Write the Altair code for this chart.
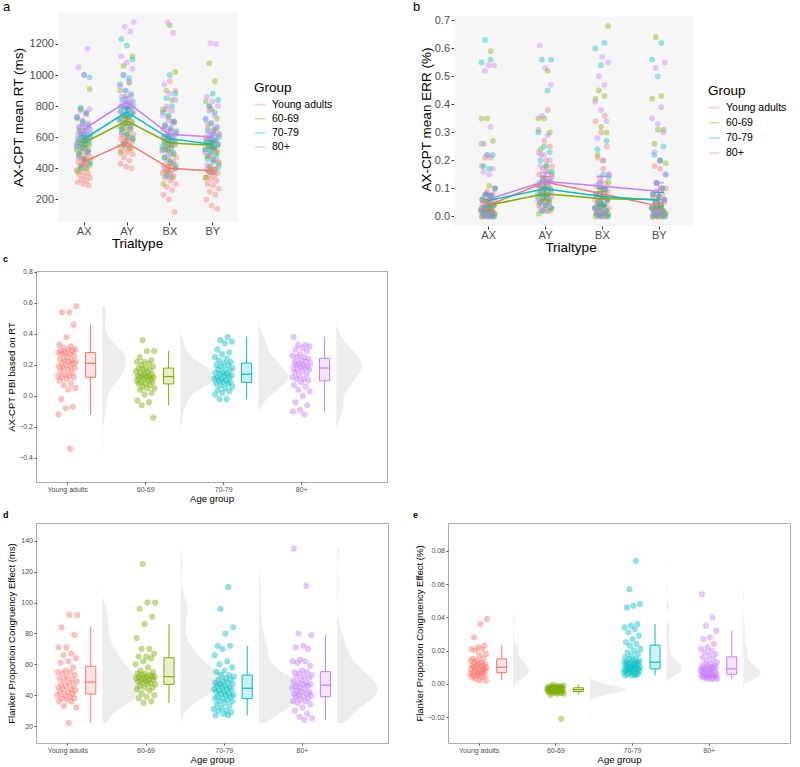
import altair as alt
import pandas as pd

FONT = "Liberation Sans"
GROUPS = ["Young adults", "60-69", "70-79", "80+"]
COLORS = ["#F8766D", "#7CAE00", "#00BFC4", "#C77CFF"]
TRIALS = ["AX", "AY", "BX", "BY"]

# ---------------- panel a : AX-CPT mean RT (ms) ----------------
rt_young_ax = [290, 300, 310, 320, 330, 340, 350, 360, 370, 380, 390, 400, 410, 420, 430, 440, 450, 460, 470, 480, 500, 520, 540, 560, 590, 620]
rt_young_ay = [400, 410, 430, 450, 470, 490, 500, 510, 520, 530, 540, 550, 560, 570, 580, 590, 600, 610, 620, 640, 660, 690, 720, 760, 800]
rt_young_bx = [120, 200, 230, 260, 280, 300, 320, 340, 350, 360, 370, 380, 390, 400, 410, 420, 430, 450, 470, 490, 520, 560, 600, 650, 700, 780, 900, 960]
rt_young_by = [140, 160, 200, 230, 250, 270, 290, 300, 320, 330, 340, 350, 360, 370, 380, 390, 400, 410, 430, 450, 480, 510, 550, 600, 650, 800]
rt_6069_ax = [380, 400, 420, 440, 460, 480, 500, 510, 520, 530, 540, 550, 560, 570, 580, 590, 600, 620, 640, 660, 690, 720, 750, 780, 910]
rt_6069_ay = [500, 530, 560, 590, 610, 630, 650, 660, 670, 680, 690, 700, 710, 720, 730, 740, 760, 780, 800, 830, 860, 900, 950, 1060, 1120]
rt_6069_bx = [300, 340, 380, 420, 450, 470, 490, 510, 520, 530, 540, 550, 560, 570, 580, 600, 620, 640, 670, 700, 740, 780, 840, 900, 1020, 1320]
rt_6069_by = [340, 380, 410, 440, 460, 480, 500, 510, 520, 530, 540, 550, 560, 570, 580, 600, 620, 650, 680, 720, 780, 830, 960, 1075]
rt_7079_ax = [400, 430, 460, 490, 510, 530, 540, 550, 560, 570, 580, 590, 600, 610, 620, 640, 660, 680, 700, 730, 760, 790, 985, 1000]
rt_7079_ay = [550, 590, 620, 650, 670, 690, 710, 730, 740, 750, 760, 770, 780, 790, 800, 820, 840, 870, 900, 940, 980, 1000, 1100, 1190, 1230]
rt_7079_bx = [350, 400, 440, 470, 500, 520, 540, 560, 570, 580, 590, 600, 610, 620, 640, 660, 680, 700, 730, 760, 800, 850, 880, 1000]
rt_7079_by = [380, 410, 440, 460, 480, 500, 520, 530, 540, 550, 560, 570, 580, 590, 600, 620, 640, 660, 690, 720, 760, 800, 840, 880]
rt_80_ax = [430, 470, 500, 530, 550, 570, 590, 600, 610, 620, 630, 640, 650, 660, 670, 690, 710, 730, 750, 770, 780, 1000, 1050, 1170]
rt_80_ay = [580, 620, 660, 690, 710, 730, 750, 770, 790, 800, 810, 820, 830, 840, 860, 880, 900, 930, 960, 1000, 1040, 1080, 1120, 1280, 1310, 1340]
rt_80_bx = [350, 400, 440, 480, 510, 530, 550, 570, 590, 600, 610, 620, 630, 650, 670, 690, 710, 740, 770, 800, 840, 880, 940, 1270, 1340]
rt_80_by = [380, 420, 450, 480, 500, 520, 540, 560, 580, 590, 600, 610, 620, 630, 650, 670, 690, 710, 740, 770, 800, 830, 860, 1200, 1205]

rt_mean_young = [441, 566, 400, 383]
rt_mean_6069 = [563, 705, 563, 548]
rt_mean_7079 = [587, 763, 591, 555]
rt_mean_80 = [651, 828, 619, 602]
rt_err_young = [20, 22, 22, 20]
rt_err_6069 = [20, 24, 24, 22]
rt_err_7079 = [22, 26, 25, 22]
rt_err_80 = [26, 30, 28, 26]

# ---------------- panel b : AX-CPT mean ERR (%) ----------------
er_young_ax = [0.0, 0.0, 0.0, 0.005, 0.01, 0.01, 0.015, 0.02, 0.02, 0.025, 0.03, 0.03, 0.035, 0.04, 0.04, 0.045, 0.05, 0.055, 0.06, 0.065, 0.07, 0.08, 0.09, 0.18, 0.21, 0.21]
er_young_ay = [0.02, 0.03, 0.04, 0.05, 0.06, 0.07, 0.08, 0.09, 0.1, 0.1, 0.11, 0.12, 0.12, 0.13, 0.14, 0.15, 0.16, 0.17, 0.18, 0.2, 0.22, 0.25, 0.27, 0.31, 0.38]
er_young_bx = [0.0, 0.0, 0.01, 0.01, 0.02, 0.03, 0.03, 0.04, 0.05, 0.05, 0.06, 0.07, 0.08, 0.09, 0.1, 0.11, 0.12, 0.14, 0.15, 0.17, 0.21, 0.25, 0.30, 0.34, 0.36]
er_young_by = [0.0, 0.0, 0.0, 0.005, 0.01, 0.01, 0.015, 0.02, 0.02, 0.025, 0.03, 0.03, 0.04, 0.05, 0.06, 0.07, 0.08, 0.09, 0.1, 0.17, 0.18]
er_6069_ax = [0.0, 0.0, 0.005, 0.01, 0.01, 0.015, 0.02, 0.02, 0.025, 0.03, 0.035, 0.04, 0.05, 0.06, 0.07, 0.08, 0.1, 0.11, 0.26, 0.27, 0.35, 0.35, 0.59]
er_6069_ay = [0.01, 0.02, 0.02, 0.03, 0.04, 0.05, 0.05, 0.06, 0.07, 0.07, 0.08, 0.09, 0.1, 0.11, 0.12, 0.13, 0.15, 0.18, 0.24, 0.30, 0.35, 0.35, 0.52]
er_6069_bx = [0.0, 0.0, 0.005, 0.01, 0.01, 0.02, 0.02, 0.03, 0.03, 0.04, 0.05, 0.06, 0.07, 0.08, 0.09, 0.1, 0.12, 0.2, 0.22, 0.30, 0.32, 0.42, 0.43, 0.45, 0.68]
er_6069_by = [0.0, 0.0, 0.005, 0.01, 0.01, 0.02, 0.02, 0.03, 0.03, 0.04, 0.05, 0.06, 0.07, 0.08, 0.1, 0.12, 0.19, 0.2, 0.26, 0.31, 0.31, 0.42, 0.43, 0.64]
er_7079_ax = [0.0, 0.0, 0.005, 0.01, 0.01, 0.02, 0.02, 0.03, 0.03, 0.04, 0.05, 0.06, 0.07, 0.08, 0.1, 0.17, 0.18, 0.22, 0.22, 0.55, 0.56, 0.63]
er_7079_ay = [0.02, 0.03, 0.04, 0.05, 0.06, 0.07, 0.08, 0.08, 0.09, 0.1, 0.11, 0.12, 0.13, 0.14, 0.16, 0.18, 0.2, 0.23, 0.25, 0.3, 0.45, 0.56, 0.56]
er_7079_bx = [0.0, 0.0, 0.01, 0.01, 0.02, 0.03, 0.03, 0.04, 0.05, 0.06, 0.07, 0.08, 0.1, 0.12, 0.14, 0.15, 0.24, 0.27, 0.54, 0.6, 0.62]
er_7079_by = [0.0, 0.0, 0.01, 0.01, 0.02, 0.03, 0.03, 0.04, 0.05, 0.06, 0.07, 0.08, 0.1, 0.12, 0.15, 0.2, 0.22, 0.25, 0.5, 0.56, 0.62]
er_80_ax = [0.0, 0.005, 0.01, 0.01, 0.02, 0.02, 0.03, 0.04, 0.05, 0.06, 0.07, 0.08, 0.1, 0.15, 0.16, 0.17, 0.22, 0.26, 0.32, 0.52, 0.54, 0.54]
er_80_ay = [0.02, 0.03, 0.04, 0.05, 0.06, 0.07, 0.08, 0.09, 0.1, 0.11, 0.12, 0.13, 0.14, 0.16, 0.18, 0.2, 0.22, 0.23, 0.29, 0.36, 0.47, 0.53, 0.61]
er_80_bx = [0.0, 0.01, 0.01, 0.02, 0.03, 0.04, 0.05, 0.06, 0.07, 0.08, 0.1, 0.12, 0.15, 0.2, 0.28, 0.34, 0.38, 0.41, 0.47, 0.5, 0.55, 0.57]
er_80_by = [0.0, 0.01, 0.01, 0.02, 0.03, 0.04, 0.05, 0.06, 0.07, 0.08, 0.1, 0.12, 0.15, 0.2, 0.23, 0.3, 0.33, 0.35, 0.39, 0.53, 0.55]

er_mean_young = [0.039, 0.123, 0.081, 0.037]
er_mean_6069 = [0.040, 0.081, 0.063, 0.061]
er_mean_7079 = [0.057, 0.099, 0.071, 0.058]
er_mean_80 = [0.061, 0.126, 0.108, 0.090]
er_err_young = [0.012, 0.02, 0.02, 0.012]
er_err_6069 = [0.02, 0.022, 0.025, 0.025]
er_err_7079 = [0.022, 0.025, 0.03, 0.028]
er_err_80 = [0.022, 0.03, 0.035, 0.03]

# ---------------- panel c : AX-CPT PBI based on RT ----------------
pbi_young = [0.58, 0.54, 0.54, 0.46, 0.38, 0.33, 0.32, 0.31, 0.30, 0.30, 0.29, 0.29, 0.28, 0.28, 0.27, 0.27, 0.26, 0.25, 0.24, 0.23, 0.23, 0.22, 0.22, 0.21, 0.21, 0.20, 0.19, 0.19, 0.18, 0.18, 0.17, 0.16, 0.15, 0.14, 0.13, 0.13, 0.12, 0.12, 0.11, 0.10, 0.08, 0.07, 0.05, 0.04, -0.02, -0.07, -0.08, -0.12, -0.34]
pbi_6069 = [0.36, 0.29, 0.29, 0.25, 0.23, 0.22, 0.22, 0.21, 0.20, 0.19, 0.18, 0.18, 0.17, 0.17, 0.16, 0.15, 0.15, 0.14, 0.14, 0.13, 0.13, 0.13, 0.12, 0.12, 0.12, 0.11, 0.11, 0.10, 0.10, 0.09, 0.09, 0.08, 0.08, 0.07, 0.06, 0.05, 0.05, 0.04, 0.02, 0.01, -0.03, -0.04, -0.06, -0.14]
pbi_7079 = [0.38, 0.36, 0.35, 0.34, 0.30, 0.28, 0.27, 0.25, 0.24, 0.23, 0.22, 0.21, 0.20, 0.20, 0.19, 0.18, 0.17, 0.17, 0.16, 0.15, 0.15, 0.14, 0.14, 0.13, 0.13, 0.12, 0.12, 0.11, 0.11, 0.10, 0.10, 0.09, 0.09, 0.08, 0.08, 0.07, 0.06, 0.05, 0.04, 0.03, 0.02, 0.01, -0.02, -0.02]
pbi_80 = [0.38, 0.33, 0.33, 0.32, 0.31, 0.30, 0.29, 0.27, 0.26, 0.25, 0.25, 0.24, 0.23, 0.22, 0.22, 0.21, 0.21, 0.20, 0.20, 0.19, 0.19, 0.18, 0.18, 0.17, 0.17, 0.16, 0.15, 0.14, 0.13, 0.12, 0.11, 0.11, 0.10, 0.09, 0.07, 0.06, 0.04, 0.03, 0.00, -0.04, -0.06, -0.09, -0.10, -0.12]

# ---------------- panel d : Flanker proportion congruency effect (ms) ----------------
fce_young = [92, 92, 84, 79, 71, 71, 67, 66, 64, 62, 61, 58, 56, 55, 55, 54, 53, 52, 51, 50, 50, 49, 48, 47, 46, 46, 45, 44, 44, 43, 42, 42, 41, 40, 40, 39, 38, 38, 37, 36, 36, 33, 32, 22]
fce_6069 = [125, 100, 100, 96, 91, 86, 77, 70, 70, 67, 65, 65, 64, 62, 60, 58, 56, 55, 54, 54, 53, 53, 52, 52, 52, 52, 51, 51, 50, 50, 50, 49, 49, 48, 48, 47, 47, 46, 45, 45, 44, 43, 41, 40, 39, 38, 36, 35]
fce_7079 = [110, 96, 84, 80, 72, 72, 70, 66, 62, 60, 58, 56, 55, 53, 53, 52, 51, 50, 50, 49, 48, 48, 47, 47, 46, 46, 45, 45, 44, 44, 43, 43, 42, 42, 41, 41, 40, 40, 39, 39, 38, 38, 37, 36, 36, 35, 34, 33, 32, 31, 30, 30, 29, 28, 27, 27]
fce_80 = [135, 111, 80, 79, 72, 71, 70, 63, 62, 62, 61, 59, 56, 55, 55, 54, 53, 52, 52, 51, 50, 49, 48, 48, 47, 47, 46, 46, 45, 45, 44, 43, 42, 42, 41, 41, 40, 40, 39, 39, 38, 37, 36, 36, 35, 34, 32, 30, 28, 26, 25, 24]

# ---------------- panel e : Flanker proportion congruency effect (%) ----------------
fpe_young = [0.039, 0.036, 0.028, 0.023, 0.022, 0.021, 0.021, 0.020, 0.018, 0.017, 0.015, 0.015, 0.014, 0.014, 0.013, 0.013, 0.012, 0.012, 0.011, 0.011, 0.011, 0.010, 0.010, 0.010, 0.009, 0.009, 0.009, 0.008, 0.008, 0.008, 0.007, 0.007, 0.007, 0.006, 0.006, 0.006, 0.005, 0.005, 0.005, 0.004, 0.004, 0.003, 0.002, 0.002]
fpe_6069 = [-0.0005, -0.001, -0.001, -0.0015, -0.0015, -0.002, -0.002, -0.002, -0.002, -0.0022, -0.0025, -0.0025, -0.0025, -0.0028, -0.003, -0.003, -0.003, -0.003, -0.0032, -0.0035, -0.0035, -0.0035, -0.0038, -0.004, -0.004, -0.004, -0.0042, -0.0045, -0.0045, -0.0048, -0.005, -0.005, -0.0052, -0.0055, -0.0055, -0.006, -0.006, -0.0065, -0.021]
fpe_7079 = [0.074, 0.057, 0.048, 0.047, 0.046, 0.036, 0.035, 0.034, 0.033, 0.031, 0.029, 0.027, 0.025, 0.024, 0.023, 0.021, 0.020, 0.019, 0.018, 0.017, 0.016, 0.015, 0.015, 0.014, 0.014, 0.013, 0.013, 0.013, 0.013, 0.012, 0.012, 0.012, 0.011, 0.011, 0.011, 0.010, 0.010, 0.010, 0.010, 0.009, 0.009, 0.009, 0.009, 0.008, 0.008, 0.008, 0.008, 0.007, 0.007, 0.007, 0.006, 0.006, 0.006, 0.005, 0.005, 0.005]
fpe_80 = [0.054, 0.040, 0.035, 0.032, 0.028, 0.027, 0.024, 0.022, 0.021, 0.020, 0.019, 0.018, 0.017, 0.016, 0.015, 0.014, 0.013, 0.012, 0.012, 0.011, 0.011, 0.010, 0.010, 0.010, 0.010, 0.009, 0.009, 0.009, 0.008, 0.008, 0.008, 0.007, 0.007, 0.007, 0.007, 0.006, 0.006, 0.006, 0.006, 0.005, 0.005, 0.005, 0.005, 0.005, 0.004, 0.004, 0.004, 0.004, 0.003, 0.003, 0.003, 0.003]


# ---------------- table builders ----------------
def trial_points(cells):
    rows = []
    for gi, g in enumerate(GROUPS):
        for ti in range(4):
            for v in cells[gi][ti]:
                rows.append({"g": g, "gi": gi + 1, "ti": ti + 1, "v": v})
    return pd.DataFrame(rows)


def trial_summary(means, errs):
    rows = []
    for gi, g in enumerate(GROUPS):
        for ti in range(4):
            m, e = means[gi][ti], errs[gi][ti]
            rows.append({"g": g, "gi": gi + 1, "ti": ti + 1, "m": m, "lo": m - e, "hi": m + e})
    return pd.DataFrame(rows)


def group_points(lists):
    rows = []
    for gi, g in enumerate(GROUPS):
        for v in lists[gi]:
            rows.append({"g": g, "gi": gi + 1, "v": v})
    return pd.DataFrame(rows)


rt_pts = trial_points([
    [rt_young_ax, rt_young_ay, rt_young_bx, rt_young_by],
    [rt_6069_ax, rt_6069_ay, rt_6069_bx, rt_6069_by],
    [rt_7079_ax, rt_7079_ay, rt_7079_bx, rt_7079_by],
    [rt_80_ax, rt_80_ay, rt_80_bx, rt_80_by]])
rt_sum = trial_summary([rt_mean_young, rt_mean_6069, rt_mean_7079, rt_mean_80],
                       [rt_err_young, rt_err_6069, rt_err_7079, rt_err_80])
er_pts = trial_points([
    [er_young_ax, er_young_ay, er_young_bx, er_young_by],
    [er_6069_ax, er_6069_ay, er_6069_bx, er_6069_by],
    [er_7079_ax, er_7079_ay, er_7079_bx, er_7079_by],
    [er_80_ax, er_80_ay, er_80_bx, er_80_by]])
er_sum = trial_summary([er_mean_young, er_mean_6069, er_mean_7079, er_mean_80],
                       [er_err_young, er_err_6069, er_err_7079, er_err_80])
pbi_df = group_points([pbi_young, pbi_6069, pbi_7079, pbi_80])
fce_df = group_points([fce_young, fce_6069, fce_7079, fce_80])
fpe_df = group_points([fpe_young, fpe_6069, fpe_7079, fpe_80])


def cscale():
    return alt.Scale(domain=GROUPS, range=COLORS)


def tag_title(text, dx, offset, size, weight):
    return alt.TitleParams(text=text, anchor="start", frame="group", orient="top", dx=dx,
                           offset=offset, fontSize=size, fontWeight=weight, color="black", font=FONT)


def trial_panel(pts, summ, xdom, ydom, bgy, yvals, yfmt, ytitle, width, height, jit, cap,
                tag, tag_dx, tag_off, legx, legy, yext, yoff, legrow):
    xs = alt.Scale(domain=xdom, nice=False, zero=False)
    ys = alt.Scale(domain=ydom, nice=False, zero=False)
    xaxis = alt.Axis(values=[1, 2, 3, 4], labelExpr="['AX','AY','BX','BY'][datum.value-1]",
                     title="Trialtype", grid=False, domain=False, tickSize=3, tickColor="#333333",
                     labelColor="#4D4D4D", labelFontSize=11, labelFont=FONT, titleFont=FONT,
                     titleFontSize=13.5, titleFontWeight="normal", titleColor="black",
                     labelPadding=0, titlePadding=0)
    yaxis = alt.Axis(values=yvals, format=yfmt, title=ytitle, grid=False, domain=False, tickSize=3,
                     tickColor="#333333", labelColor="#4D4D4D", labelFontSize=11, labelFont=FONT,
                     titleFont=FONT, titleFontSize=13.5, titleFontWeight="normal", titleColor="black",
                     labelPadding=1.5, titlePadding=3, minExtent=yext, maxExtent=yext, offset=yoff)
    legend = alt.Legend(orient="none", legendX=legx, legendY=legy, title="Group", titleFont=FONT,
                        titleFontSize=13.5, titleFontWeight="normal", titleColor="black",
                        labelFont=FONT, labelFontSize=10.5, labelColor="black", symbolType="stroke",
                        symbolStrokeWidth=1.5, symbolSize=110, rowPadding=legrow, titlePadding=4,
                        labelOffset=6, padding=0)
    col = alt.Color("g:N", scale=cscale(), legend=legend)
    bg = alt.Chart(pd.DataFrame({"x1": [0.4], "x2": [4.6], "y1": [bgy[0]], "y2": [bgy[1]]})).mark_rect(
        fill="#F6F6F6").encode(
        x=alt.X("x1:Q", scale=xs, axis=xaxis), x2="x2:Q",
        y=alt.Y("y1:Q", scale=ys, axis=yaxis), y2="y2:Q")
    pts_layer = alt.Chart(pts).transform_window(
        rn="row_number()", groupby=["g", "ti"]
    ).transform_calculate(
        px=f"datum.ti + ((datum.rn*0.618034 + datum.gi*0.23) % 1 - 0.5)*{2 * jit}"
    ).mark_circle(size=34, opacity=0.4).encode(
        x=alt.X("px:Q", scale=xs, axis=xaxis),
        y=alt.Y("v:Q", scale=ys, axis=yaxis),
        color=col)
    s = alt.Chart(summ)
    bar = s.mark_rule(strokeWidth=1).encode(
        x=alt.X("ti:Q", scale=xs, axis=xaxis), y=alt.Y("lo:Q", scale=ys, axis=yaxis), y2="hi:Q", color=col)
    capped = s.transform_calculate(c1=f"datum.ti-{cap}", c2=f"datum.ti+{cap}")
    cap_lo = capped.mark_rule(strokeWidth=1).encode(
        x=alt.X("c1:Q", scale=xs, axis=xaxis), x2="c2:Q", y=alt.Y("lo:Q", scale=ys, axis=yaxis), color=col)
    cap_hi = capped.mark_rule(strokeWidth=1).encode(
        x=alt.X("c1:Q", scale=xs, axis=xaxis), x2="c2:Q", y=alt.Y("hi:Q", scale=ys, axis=yaxis), color=col)
    lines = s.mark_line(strokeWidth=1.5).encode(
        x=alt.X("ti:Q", scale=xs, axis=xaxis), y=alt.Y("m:Q", scale=ys, axis=yaxis), color=col)
    return alt.layer(bg, pts_layer, bar, cap_lo, cap_hi, lines).properties(
        width=width, height=height,
        view=alt.ViewBackground(fill=None, stroke=None),
        title=tag_title(tag, tag_dx, tag_off, 13, "normal"))


def rain_panel(df, ydom, yvals, yfmt, ytitle, xdom, width, height, jit, dens_k, bw,
               tag, tag_dx, tag_off, yext):
    xs = alt.Scale(domain=xdom, nice=False, zero=False)
    ys = alt.Scale(domain=ydom, nice=False, zero=False)
    xaxis = alt.Axis(values=[1, 2, 3, 4], labelExpr="['Young adults','60-69','70-79','80+'][datum.value-1]",
                     title="Age group", grid=False, domain=False, tickSize=2, tickColor="#4D4D4D",
                     labelColor="#4D4D4D", labelFontSize=7, labelFont=FONT, titleFont=FONT,
                     titleFontSize=9.5, titleFontWeight="normal", titleColor="black",
                     labelPadding=1, titlePadding=1)
    yaxis = alt.Axis(values=yvals, format=yfmt, title=ytitle, grid=False, domain=False, tickSize=2,
                     tickColor="#4D4D4D", labelColor="#4D4D4D", labelFontSize=7, labelFont=FONT,
                     titleFont=FONT, titleFontSize=9.5, titleFontWeight="normal", titleColor="black",
                     labelPadding=1.5, titlePadding=3, minExtent=yext, maxExtent=yext)
    col = alt.Color("g:N", scale=cscale(), legend=None)
    base = alt.Chart(df)
    dens_kw = {"bandwidth": bw} if bw else {}
    violin = base.transform_density(
        "v", as_=["v", "dens"], groupby=["g", "gi"], **dens_kw
    ).transform_calculate(
        vb="datum.gi + 0.45", vx=f"datum.gi + 0.45 + datum.dens*{dens_k}"
    ).mark_area(orient="horizontal", fill="#EDEDED", opacity=1).encode(
        y=alt.Y("v:Q", scale=ys, axis=yaxis),
        x=alt.X("vx:Q", scale=xs, axis=xaxis), x2="vb:Q", detail="g:N")
    pts_layer = base.transform_window(
        rn="row_number()", groupby=["g"]
    ).transform_calculate(
        px=f"datum.gi + ((datum.rn*0.618034 + datum.gi*0.37) % 1 - 0.5)*{2 * jit}"
    ).mark_circle(size=38, opacity=0.45).encode(
        x=alt.X("px:Q", scale=xs, axis=xaxis),
        y=alt.Y("v:Q", scale=ys, axis=yaxis),
        color=col)
    stats = base.transform_joinaggregate(
        q1="q1(v)", q3="q3(v)", med="median(v)", groupby=["g", "gi"]
    ).transform_calculate(
        lo="datum.q1 - 1.5*(datum.q3-datum.q1)", hi="datum.q3 + 1.5*(datum.q3-datum.q1)"
    ).transform_filter(
        "datum.v >= datum.lo && datum.v <= datum.hi"
    ).transform_aggregate(
        wlo="min(v)", whi="max(v)", q1="max(q1)", q3="max(q3)", med="max(med)", groupby=["g", "gi"]
    ).transform_calculate(
        bx="datum.gi + 0.3", b1="datum.gi + 0.3 - 0.065", b2="datum.gi + 0.3 + 0.065")
    wl = stats.mark_rule(strokeWidth=1).encode(
        x=alt.X("bx:Q", scale=xs, axis=xaxis), y=alt.Y("wlo:Q", scale=ys, axis=yaxis), y2="q1:Q", color=col)
    wh = stats.mark_rule(strokeWidth=1).encode(
        x=alt.X("bx:Q", scale=xs, axis=xaxis), y=alt.Y("q3:Q", scale=ys, axis=yaxis), y2="whi:Q", color=col)
    box = stats.mark_rect(fillOpacity=0.2, strokeWidth=1).encode(
        x=alt.X("b1:Q", scale=xs, axis=xaxis), x2="b2:Q",
        y=alt.Y("q1:Q", scale=ys, axis=yaxis), y2="q3:Q",
        fill=alt.Fill("g:N", scale=cscale(), legend=None),
        stroke=alt.Stroke("g:N", scale=cscale(), legend=None))
    med = stats.mark_rule(strokeWidth=1.2).encode(
        x=alt.X("b1:Q", scale=xs, axis=xaxis), x2="b2:Q", y=alt.Y("med:Q", scale=ys, axis=yaxis), color=col)
    return alt.layer(violin, pts_layer, wl, wh, box, med).properties(
        width=width, height=height,
        view=alt.ViewBackground(fill="white", stroke="#ABABAB", strokeWidth=1),
        title=tag_title(tag, tag_dx, tag_off, 9, "bold"))


# panel a: plot origin at x=35 (shared column origin); grey panel starts 22 px further right
pa = trial_panel(rt_pts, rt_sum, [-0.1133, 4.6], [55, 1405], [55, 1405],
                 [200, 400, 600, 800, 1000, 1200], "d",
                 "AX-CPT mean RT (ms)", 202, 210, 0.17, 0.08,
                 "a", -33, -2, 218, 69, 30, -22, 2.2)
# panel b: origin shared with panel e; grey panel starts 6 px right and 4 px lower
pb = trial_panel(er_pts, er_sum, [0.2946, 4.6], [-0.034, 0.730], [-0.034, 0.714],
                 [0, 0.1, 0.2, 0.3, 0.4, 0.5, 0.6, 0.7], ".1f",
                 "AX-CPT mean ERR (%)", 245, 214, 0.13, 0.09,
                 "b", -35, -2, 260, 72, 18, -6, 3.2)
pc = rain_panel(pbi_df, [-0.555, 0.806], [-0.4, -0.2, 0.0, 0.2, 0.4, 0.6, 0.8], ".1f",
                "AX-CPT PBI based on RT", [0.6, 5.1], 351, 211, 0.12, 0.1, None,
                "c", -33, 4, 17)
pd_ = rain_panel(fce_df, [9, 151.6], [20, 40, 60, 80, 100, 120, 140], "d",
                 "Flanker Proportion Congruency Effect (ms)", [0.6, 5.1], 352, 220, 0.13, 18.0, None,
                 "d", -33, 3, 17)
pe = rain_panel(fpe_df, [-0.0356, 0.0968], [-0.02, 0.0, 0.02, 0.04, 0.06, 0.08], ".2f",
                "Flanker Proportion Congruency Effect (%)", [0.6, 5.06], 342, 220, 0.11, 0.0031, 0.002,
                "e", -35, 3, 21)

# empty cell beside panel c; its height sets the gap above the bottom row
spacer = alt.Chart(pd.DataFrame({"z": [0]})).mark_point(opacity=0).encode(
    x=alt.X("z:Q", axis=None), y=alt.Y("z:Q", axis=None)
).properties(width=1, height=239, view=alt.ViewBackground(stroke=None))

chart = alt.concat(
    pa, pb, pc, spacer, pd_, pe, columns=2, align="each", bounds="full",
    spacing={"row": 0, "column": 23}
).resolve_scale(
    color="independent"
).properties(
    padding={"left": 2, "top": 1, "right": 2, "bottom": 2}
).configure(font=FONT, background="white")

chart.save("out.html", embed_options={"renderer": "svg", "actions": False})
